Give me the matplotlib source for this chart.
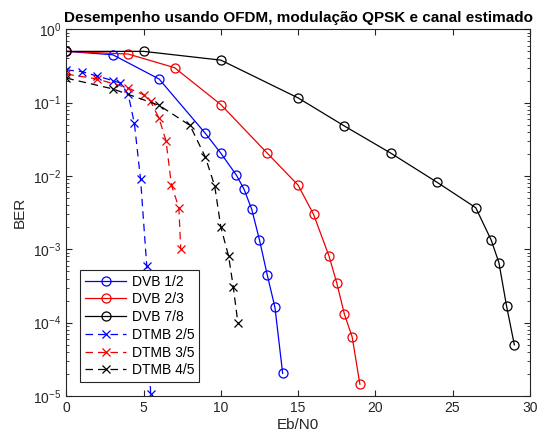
import matplotlib
matplotlib.use("Agg")
import matplotlib.pyplot as plt
import numpy as np

plt.rcParams['font.family'] = ['Liberation Sans', 'DejaVu Sans']

dvb12_x = [0, 3, 6, 9, 10, 11, 11.5, 12, 12.5, 13, 13.5, 14]
dvb12_y = [0.50, 0.45, 0.21, 0.038, 0.0204, 0.0103, 0.0066, 0.0035, 0.00134, 4.5e-4, 1.62e-4, 2.04e-5]

dvb23_x = [0, 4, 7, 10, 13, 15, 16, 17, 17.5, 18, 18.5, 19]
dvb23_y = [0.50, 0.46, 0.30, 0.094, 0.0205, 0.0075, 0.0030, 8.1e-4, 3.5e-4, 1.3e-4, 6.4e-5, 1.45e-5]

dvb78_x = [0, 5, 10, 15, 18, 21, 24, 26.5, 27.5, 28, 28.5, 29]
dvb78_y = [0.50, 0.50, 0.38, 0.116, 0.048, 0.0205, 0.0082, 0.0037, 0.00134, 6.6e-4, 1.67e-4, 5.0e-5]

dtmb25_x = [0, 1, 2, 3, 3.5, 4, 4.4, 4.8, 5.2, 5.45]
dtmb25_y = [0.28, 0.265, 0.23, 0.20, 0.185, 0.13, 0.052, 0.0090, 6.0e-4, 1.05e-5]

dtmb35_x = [0, 2, 4, 5, 5.45, 6, 6.45, 6.8, 7.28, 7.4]
dtmb35_y = [0.245, 0.21, 0.158, 0.128, 0.104, 0.061, 0.030, 0.0075, 0.0037, 0.0010]

dtmb45_x = [0, 3, 6, 8, 9, 9.6, 10, 10.5, 10.8, 11.1]
dtmb45_y = [0.216, 0.154, 0.092, 0.049, 0.018, 0.0073, 0.0020, 8.1e-4, 3.1e-4, 1.0e-4]

fig = plt.figure(figsize=(5.49, 4.44), dpi=100)
ax = fig.add_axes([0.121, 0.108, 0.844, 0.826])

lw = 0.9
ax.semilogy(dvb12_x, dvb12_y, '-o', color='#0000ff', lw=lw, ms=6.5, mfc='none', mew=0.9, label='DVB 1/2')
ax.semilogy(dvb23_x, dvb23_y, '-o', color='#ee0000', lw=lw, ms=6.5, mfc='none', mew=0.9, label='DVB 2/3')
ax.semilogy(dvb78_x, dvb78_y, '-o', color='#000000', lw=lw, ms=6.5, mfc='none', mew=0.9, label='DVB 7/8')
ax.semilogy(dtmb25_x, dtmb25_y, '--x', color='#0000ff', lw=lw, ms=6, mew=0.9, dashes=(6, 4), label='DTMB 2/5')
ax.semilogy(dtmb35_x, dtmb35_y, '--x', color='#ee0000', lw=lw, ms=6, mew=0.9, dashes=(6, 4), label='DTMB 3/5')
ax.semilogy(dtmb45_x, dtmb45_y, '--x', color='#000000', lw=lw, ms=6, mew=0.9, dashes=(6, 4), label='DTMB 4/5')

ax.set_xlim(0, 30)
ax.set_ylim(1e-5, 1)
ax.set_xticks([0, 5, 10, 15, 20, 25, 30])
ax.set_yticks([1e-5, 1e-4, 1e-3, 1e-2, 1e-1, 1])
ax.tick_params(which='both', direction='in', top=True, right=True, colors='#262626', labelsize=10, labelcolor='#262626')
ax.tick_params(which='major', length=4)
ax.tick_params(which='minor', length=2)
for s in ax.spines.values():
    s.set_color('#262626')
    s.set_linewidth(0.8)

ax.set_xlabel('Eb/N0', fontsize=11, color='#262626', labelpad=2)
ax.set_ylabel('BER', fontsize=11, color='#262626', labelpad=5)
ax.set_title('Desempenho usando OFDM, modulação QPSK e canal estimado', fontsize=11, fontweight='bold', pad=5)

leg = ax.legend(loc='lower left', bbox_to_anchor=(0.029, 0.038), borderaxespad=0, fontsize=10, fancybox=False,
                edgecolor='#262626', framealpha=1, handlelength=3.0, borderpad=0.35,
                labelspacing=0.27, handletextpad=0.4)
leg.get_frame().set_linewidth(0.8)

fig.savefig('out.png', dpi=100)
